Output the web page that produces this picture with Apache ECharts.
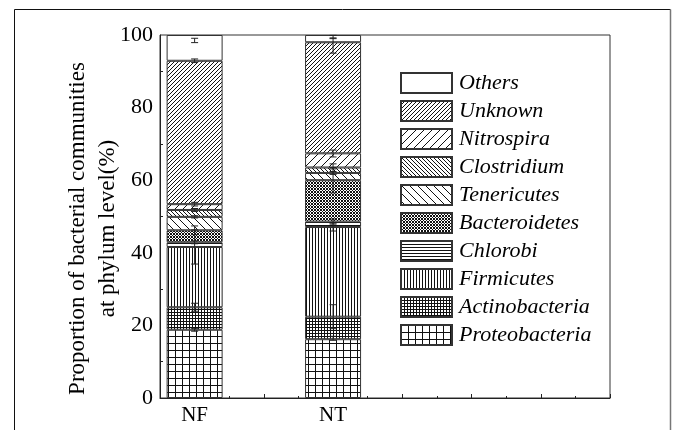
<!DOCTYPE html>
<html>
<head>
<meta charset="utf-8">
<script src="https://cdn.jsdelivr.net/npm/echarts@6/dist/echarts.min.js"></script>
<style>
html,body{margin:0;padding:0;background:#fff;}
#chart{width:673px;height:430px;}
</style>
</head>
<body>
<div id="chart"></div>
<script>
// ---- data ----
const categories = ['NF', 'NT'];
const groupPos = [1, 3];
const xTickPos = [0.5, 1, 1.5, 2, 2.5, 3, 3.5, 4, 4.5, 5, 5.5, 6, 6.5, 7];
const yTicks = [0, 20, 40, 60, 80, 100];
const phyla = ['Proteobacteria', 'Actinobacteria', 'Firmicutes', 'Chlorobi', 'Bacteroidetes',
               'Tenericutes', 'Clostridium', 'Nitrospira', 'Unknown', 'Others'];
const valuesNF = [18.8, 6.2, 16.6, 1.3, 3.3, 3.7, 1.9, 1.6, 39.5, 7.1];
const valuesNT = [16.2, 6.2, 24.7, 1.5, 11.4, 2.0, 1.5, 3.9, 30.6, 2.0];
const errLowNF  = [18.4, 23.9, 36.9, 42.5, 45.0, 49.6, 51.4, 52.9, 92.4, 97.9];
const errHighNF = [19.2, 26.1, 46.3, 43.3, 47.4, 50.2, 52.2, 53.9, 93.4, 99.1];
const errLowNT  = [15.9, 19.1, 46.0, 47.9, 56.5, 61.6, 63.1, 66.4, 95.0, 99.0];
const errHighNT = [17.0, 25.7, 48.2, 49.3, 63.5, 62.4, 64.5, 68.3, 99.2, 99.9];
const yAxisName = 'Proportion of bacterial communities\nat phylum level(%)';

// ---- patterns (style) ----
function tile(w, h, draw) {
  const c = document.createElement('canvas');
  c.width = w; c.height = h;
  const g = c.getContext('2d');
  g.fillStyle = '#fff'; g.fillRect(0, 0, w, h);
  g.strokeStyle = '#111'; g.fillStyle = '#111'; g.lineWidth = 1;
  draw(g, w, h);
  return { image: c, repeat: 'repeat' };
}
function gridTile(s) {
  return tile(s, s, (g) => { g.beginPath(); g.moveTo(0.5, 0); g.lineTo(0.5, s); g.moveTo(0, 0.5); g.lineTo(s, 0.5); g.stroke(); });
}
function vTile(s) { return tile(s, s, (g) => { g.beginPath(); g.moveTo(0.5, 0); g.lineTo(0.5, s); g.stroke(); }); }
function hTile(s) { return tile(s, s, (g) => { g.beginPath(); g.moveTo(0, 0.5); g.lineTo(s, 0.5); g.stroke(); }); }
function fwdTile(s) { // "/"
  return tile(s, s, (g) => { g.beginPath(); for (const k of [-s, 0, s]) { g.moveTo(k, s); g.lineTo(k + s, 0); } g.stroke(); });
}
function backTile(s) { // "\"
  return tile(s, s, (g) => { g.beginPath(); for (const k of [-s, 0, s]) { g.moveTo(k, 0); g.lineTo(k + s, s); } g.stroke(); });
}
function crossTile(s) {
  return tile(s, s, (g) => { g.beginPath(); for (const k of [-s, 0, s]) { g.moveTo(k, s); g.lineTo(k + s, 0); g.moveTo(k, 0); g.lineTo(k + s, s); } g.stroke(); });
}
const fills = [gridTile(7), gridTile(3), vTile(3), hTile(3), crossTile(3),
               backTile(8), backTile(4), fwdTile(8), fwdTile(4), '#ffffff'];

const serif = 'Liberation Serif';
const chart = echarts.init(document.getElementById('chart'), null, { renderer: 'canvas' });

const tickCats = xTickPos.map(String);
const groupCats = groupPos.map(String);
const labelAt = {};
groupCats.forEach((c, i) => { labelAt[c] = categories[i]; });

const barSeries = phyla.map((name, i) => ({
  name: name,
  type: 'bar',
  stack: 'total',
  xAxisIndex: 0,
  yAxisIndex: 0,
  barWidth: 56,
  data: [[groupCats[0], valuesNF[i]], [groupCats[1], valuesNT[i]]],
  itemStyle: { color: fills[i], borderColor: '#333', borderWidth: 1 },
  emphasis: { disabled: true },
  animation: false
}));

const errData = [];
phyla.forEach((_, i) => {
  errData.push([groupCats[0], errLowNF[i], errHighNF[i]]);
  errData.push([groupCats[1], errLowNT[i], errHighNT[i]]);
});

const errSeries = {
  type: 'custom',
  xAxisIndex: 0,
  yAxisIndex: 0,
  z: 10,
  silent: true,
  animation: false,
  encode: { x: 0, y: [1, 2] },
  data: errData,
  renderItem: function (params, api) {
    const x = api.value(0);
    const lo = api.coord([x, api.value(1)]);
    const hi = api.coord([x, api.value(2)]);
    const cw = 3.5;
    const st = { stroke: '#222', lineWidth: 1 };
    return {
      type: 'group',
      children: [
        { type: 'line', shape: { x1: lo[0], y1: lo[1], x2: hi[0], y2: hi[1] }, style: st },
        { type: 'line', shape: { x1: lo[0] - cw, y1: lo[1], x2: lo[0] + cw, y2: lo[1] }, style: st },
        { type: 'line', shape: { x1: hi[0] - cw, y1: hi[1], x2: hi[0] + cw, y2: hi[1] }, style: st }
      ]
    };
  }
};

const option = {
  backgroundColor: '#fff',
  animation: false,
  grid: { left: 160, right: 63, top: 35, bottom: 32, show: true, borderColor: '#333', borderWidth: 1 },
  legend: {
    orient: 'vertical',
    left: 400,
    top: 72,
    padding: 0,
    itemWidth: 51,
    itemHeight: 20,
    itemGap: 6,
    icon: 'rect',
    selectedMode: false,
    data: phyla.slice().reverse(),
    textStyle: { fontFamily: serif, fontStyle: 'italic', fontSize: 22, color: '#000', lineHeight: 21, padding: [0, 0, 0, 2] }
  },
  xAxis: [
    {
      type: 'category', data: tickCats, boundaryGap: false, position: 'bottom',
      axisLine: { lineStyle: { color: '#222', width: 1 } },
      axisTick: { inside: true, length: 4, lineStyle: { color: '#222' },
                  interval: (i, v) => Number.isInteger(Number(v)) },
      axisLabel: { interval: (i, v) => labelAt[v] !== undefined, formatter: (v) => labelAt[v] || '',
                   fontFamily: serif, fontSize: 21, color: '#000', margin: 7 },
      splitLine: { show: false }
    },
    {
      type: 'category', data: tickCats, boundaryGap: false, position: 'bottom',
      axisLine: { show: false },
      axisTick: { inside: true, length: 2, lineStyle: { color: '#222' },
                  interval: (i, v) => !Number.isInteger(Number(v)) && i > 0 },
      axisLabel: { show: false },
      splitLine: { show: false }
    }
  ],
  yAxis: {
    type: 'value', min: yTicks[0], max: yTicks[yTicks.length - 1], interval: 20,
    name: yAxisName, nameLocation: 'middle', nameGap: 37, nameRotate: 90, nameMoveOverlap: false,
    nameTextStyle: { fontFamily: serif, fontSize: 23, color: '#000', lineHeight: 30, align: 'center', padding: [0, 24, 0, 0] },
    axisLine: { show: true, lineStyle: { color: '#222', width: 1 } },
    axisTick: { inside: true, length: 5, lineStyle: { color: '#222' } },
    minorTick: { show: true, splitNumber: 2, length: 3, lineStyle: { color: '#222' } },
    axisLabel: { fontFamily: serif, fontSize: 22, color: '#000', margin: 7 },
    splitLine: { show: false }
  },
  graphic: [
    { type: 'polyline', silent: true, z: 100,
      shape: { points: [[14.5, 440], [14.5, 9.5], [670.5, 9.5]] },
      style: { stroke: '#111', lineWidth: 1, fill: null } },
    { type: 'line', silent: true, z: 100,
      shape: { x1: 670.5, y1: 9.5, x2: 670.5, y2: 440 },
      style: { stroke: '#777', lineWidth: 1.5 } }
  ],
  series: barSeries.concat([errSeries])
};
chart.setOption(option);
</script>
</body>
</html>
